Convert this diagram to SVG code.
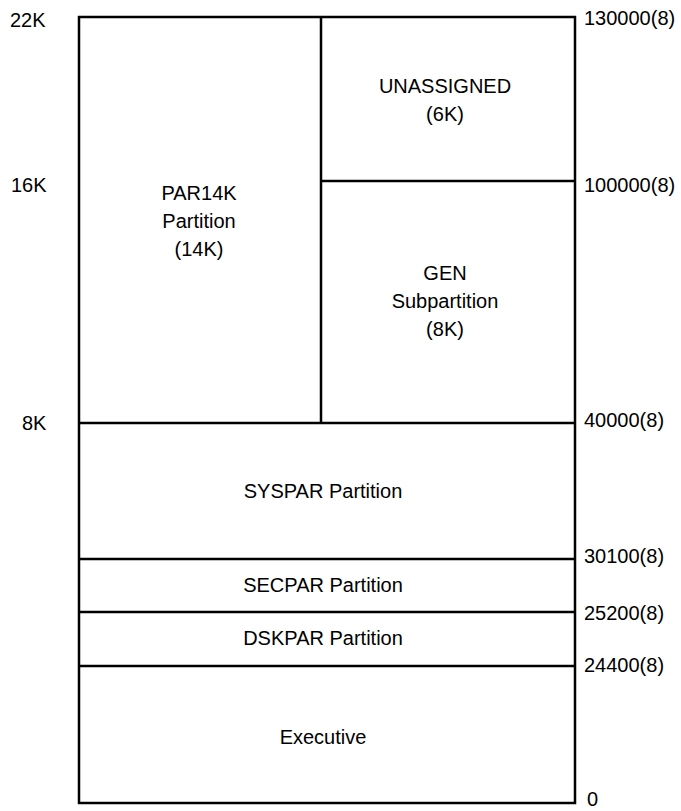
<svg xmlns="http://www.w3.org/2000/svg" width="681" height="811" viewBox="0 0 681 811">
<style>
.l{stroke:#000;stroke-width:2.5;fill:none}
text{font-family:"Liberation Sans",Arial,sans-serif;font-size:20px;fill:#000}
.c{text-anchor:middle}
</style>
<rect width="681" height="811" fill="#fff"/>
<g id="connectors">
<rect class="l" x="79" y="17" width="496" height="786"/>
<line class="l" x1="321" y1="17" x2="321" y2="423"/>
<line class="l" x1="321" y1="181" x2="575" y2="181"/>
<line class="l" x1="79" y1="423" x2="575" y2="423"/>
<line class="l" x1="79" y1="559" x2="575" y2="559"/>
<line class="l" x1="79" y1="612" x2="575" y2="612"/>
<line class="l" x1="79" y1="666" x2="575" y2="666"/>
</g>
<g id="unassigned"><text class="c" x="445" y="93">UNASSIGNED</text><text class="c" x="445" y="121">(6K)</text></g>
<g id="par14k"><text class="c" x="199" y="200">PAR14K</text><text class="c" x="199" y="228">Partition</text><text class="c" x="199" y="256">(14K)</text></g>
<g id="gen"><text class="c" x="445" y="280">GEN</text><text class="c" x="445" y="308">Subpartition</text><text class="c" x="445" y="336">(8K)</text></g>
<g id="syspar"><text class="c" x="323" y="498">SYSPAR Partition</text></g>
<g id="secpar"><text class="c" x="323" y="592">SECPAR Partition</text></g>
<g id="dskpar"><text class="c" x="323" y="645">DSKPAR Partition</text></g>
<g id="executive"><text class="c" x="323" y="744">Executive</text></g>
<g id="labels">
<text x="10" y="27">22K</text>
<text x="11" y="192">16K</text>
<text x="22" y="430">8K</text>
<text x="584" y="25">130000(8)</text>
<text x="584" y="192">100000(8)</text>
<text x="584" y="427">40000(8)</text>
<text x="584" y="563">30100(8)</text>
<text x="584" y="620">25200(8)</text>
<text x="584" y="672">24400(8)</text>
<text x="587" y="806">0</text>
</g>
</svg>
